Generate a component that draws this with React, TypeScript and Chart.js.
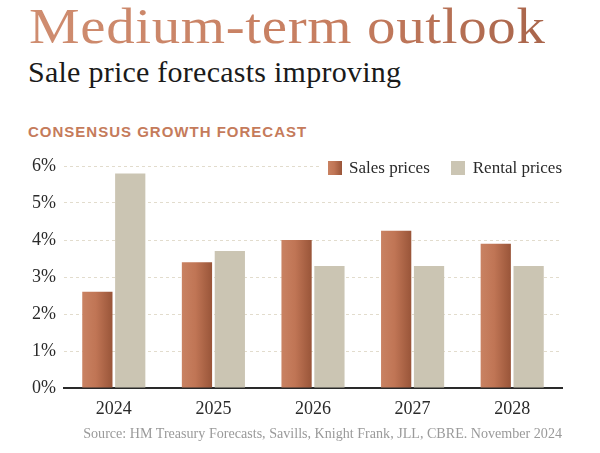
import React, { useEffect, useRef } from "react";
import { Chart, registerables } from "chart.js";

Chart.register(...registerables);

const years = ["2024", "2025", "2026", "2027", "2028"];
const salesPrices = [2.6, 3.4, 4.0, 4.25, 3.9];
const rentalPrices = [5.8, 3.7, 3.3, 3.3, 3.3];
const yTicks = [0, 1, 2, 3, 4, 5, 6];

const CAT_PCT = 0.66;
const BAR_PCT = 0.92;
const SERIF = "'Liberation Serif', 'Times New Roman', serif";

export default function App() {
  const canvasRef = useRef<HTMLCanvasElement | null>(null);

  useEffect(() => {
    document.body.style.margin = "0";
    const canvas = canvasRef.current;
    if (!canvas) return;

    const salesFill = (ctx: any) => {
      const chart = ctx.chart;
      const xs = chart.scales && chart.scales.x;
      if (!xs || ctx.type !== "data" || !chart.chartArea) return "#bd7455";
      const center = xs.getPixelForValue(ctx.dataIndex);
      const catW = xs.width / years.length;
      const slot = (catW * CAT_PCT) / 2;
      const barW = slot * BAR_PCT;
      const slotCenter = center - slot / 2;
      const l = slotCenter - barW / 2;
      const r = slotCenter + barW / 2;
      const g = chart.ctx.createLinearGradient(l, 0, r, 0);
      g.addColorStop(0, "#c98262");
      g.addColorStop(0.45, "#c07555");
      g.addColorStop(1, "#995539");
      return g;
    };

    const chart = new Chart(canvas, {
      type: "bar",
      data: {
        labels: years,
        datasets: [
          {
            label: "Sales prices",
            data: salesPrices,
            backgroundColor: salesFill,
            borderWidth: 0,
            categoryPercentage: CAT_PCT,
            barPercentage: BAR_PCT,
          },
          {
            label: "Rental prices",
            data: rentalPrices,
            backgroundColor: "#cbc5b3",
            borderWidth: 0,
            categoryPercentage: CAT_PCT,
            barPercentage: BAR_PCT,
          },
        ],
      },
      options: {
        animation: false,
        responsive: false,
        maintainAspectRatio: false,
        layout: { padding: { top: 26, right: 38, left: 0, bottom: 0 } },
        plugins: {
          legend: { display: false },
          tooltip: { enabled: false },
          title: { display: false },
        },
        scales: {
          x: {
            grid: { display: false, drawTicks: false },
            border: { display: true, color: "#2a2a2a", width: 2 },
            ticks: {
              color: "#2a2a2a",
              padding: 10,
              font: { family: SERIF, size: 18 },
            },
            afterFit: (scale: any) => {
              scale.height = 52;
            },
          },
          y: {
            min: 0,
            max: 6,
            afterBuildTicks: (scale: any) => {
              scale.ticks = yTicks.map((v) => ({ value: v }));
            },
            grid: {
              drawTicks: false,
              color: (c: any) => (c.index === 0 ? "rgba(0,0,0,0)" : "#e2dccd"),
              lineWidth: 1,
            },
            border: { display: false, dash: [3, 3] },
            ticks: {
              color: "#2a2a2a",
              padding: 8,
              font: { family: SERIF, size: 18 },
              callback: (v: any) => v + "%",
            },
            afterFit: (scale: any) => {
              scale.width = 64;
            },
          },
        },
      },
    });
    return () => chart.destroy();
  }, []);

  return (
    <div style={{ position: "relative", width: 600, height: 453, background: "#fff", overflow: "hidden" }}>
      <div
        style={{
          position: "absolute",
          left: 29,
          top: 1,
          fontFamily: SERIF,
          fontSize: 51,
          lineHeight: 1,
          letterSpacing: 0.6,
          whiteSpace: "nowrap",
          transform: "scaleX(1.115)",
          transformOrigin: "0 0",
          background: "linear-gradient(90deg, #cf8d70 0%, #c67d5f 60%, #a9654b 100%)",
          WebkitBackgroundClip: "text",
          backgroundClip: "text",
          color: "transparent",
        }}
      >
        Medium-term outlook
      </div>
      <div
        style={{
          position: "absolute",
          left: 28,
          top: 57,
          fontFamily: SERIF,
          fontSize: 30,
          lineHeight: 1,
          letterSpacing: 0.25,
          color: "#1a1a1a",
          whiteSpace: "nowrap",
        }}
      >
        Sale price forecasts improving
      </div>
      <div
        style={{
          position: "absolute",
          left: 28,
          top: 124,
          fontFamily: "'Liberation Sans', Arial, sans-serif",
          fontWeight: 700,
          fontSize: 15,
          lineHeight: 1,
          letterSpacing: 1,
          color: "#c57b5b",
          whiteSpace: "nowrap",
        }}
      >
        CONSENSUS GROWTH FORECAST
      </div>
      <canvas
        ref={canvasRef}
        width={600}
        height={300}
        style={{ position: "absolute", left: 0, top: 140, width: 600, height: 300 }}
      />
      <div
        style={{
          position: "absolute",
          right: 38,
          top: 159,
          display: "flex",
          alignItems: "center",
          fontFamily: SERIF,
          fontSize: 17,
          lineHeight: 1,
          color: "#2a2a2a",
          whiteSpace: "nowrap",
          background: "#fff",
          paddingLeft: 6,
        }}
      >
        <span
          style={{
            display: "inline-block",
            width: 14,
            height: 14,
            marginRight: 7,
            background: "linear-gradient(90deg, #c98262, #c07555 45%, #995539)",
          }}
        />
        <span style={{ marginRight: 21 }}>Sales prices</span>
        <span style={{ display: "inline-block", width: 14, height: 14, marginRight: 8, background: "#cbc5b3" }} />
        <span>Rental prices</span>
      </div>
      <div
        style={{
          position: "absolute",
          right: 38,
          top: 426,
          fontFamily: SERIF,
          fontSize: 14.1,
          lineHeight: 1,
          color: "#9a9a9a",
          whiteSpace: "nowrap",
        }}
      >
        Source: HM Treasury Forecasts, Savills, Knight Frank, JLL, CBRE. November 2024
      </div>
    </div>
  );
}
